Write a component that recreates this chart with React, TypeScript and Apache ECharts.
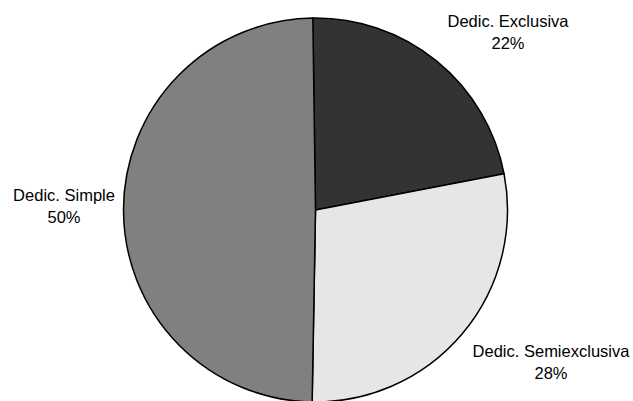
import React, { useEffect, useRef } from "react";
import * as echarts from "echarts";

const categories = ["Dedic. Exclusiva", "Dedic. Semiexclusiva", "Dedic. Simple"];
const shares = [22.2, 28.3, 49.5];
const sliceColors = ["#333333", "#e6e6e6", "#808080"];
const labelCenters: [number, number][] = [
  [508, 32],
  [551, 362],
  [64, 206],
];

export default function App() {
  const ref = useRef<HTMLDivElement>(null);
  useEffect(() => {
    if (!ref.current) return;
    const chart = echarts.init(ref.current, null, { renderer: "svg" });
    chart.setOption({
      animation: false,
      backgroundColor: "#ffffff",
      series: [
        {
          type: "pie",
          center: [315.5, 210],
          radius: 192,
          startAngle: 90.8,
          clockwise: true,
          silent: true,
          data: categories.map((name, i) => ({
            name,
            value: shares[i],
            itemStyle: { color: sliceColors[i] },
          })),
          itemStyle: { borderColor: "#000000", borderWidth: 1.5 },
          label: {
            show: true,
            position: "inside",
            overflow: "none",
            formatter: (p: any) => `${p.name}\n${Math.round(p.percent)}%`,
            fontFamily: "Liberation Sans, Arial, sans-serif",
            fontSize: 16.5,
            lineHeight: 22,
            color: "#000000",
            align: "center",
          },
          labelLine: { show: false },
          labelLayout: (params: any) => {
            const c = labelCenters[params.dataIndex];
            return { x: c[0], y: c[1], align: "center", verticalAlign: "middle" };
          },
        },
      ],
    });
    return () => chart.dispose();
  }, []);
  return (
    <div
      ref={ref}
      style={{ position: "fixed", left: 0, top: 0, width: 633, height: 401 }}
    />
  );
}
